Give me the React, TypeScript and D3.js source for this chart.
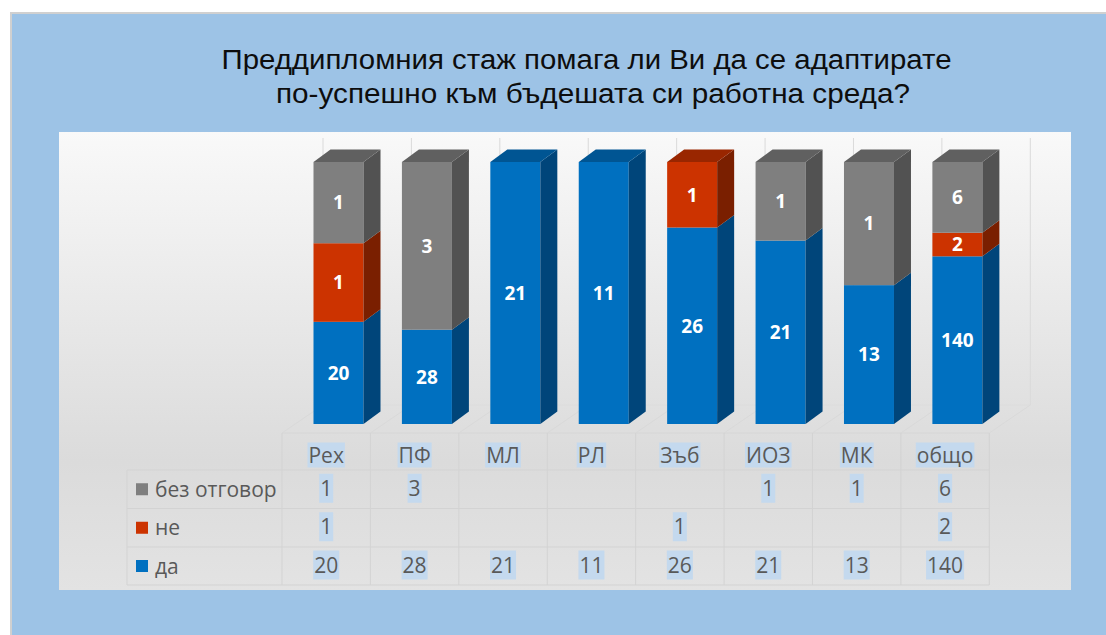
import React, { useEffect, useRef } from "react";
import * as d3 from "d3";

const categories = ["Рех", "ПФ", "МЛ", "РЛ", "Зъб", "ИОЗ", "МК", "общо"];
const seriesNames = ["без отговор", "не", "да"];

// counts shown in labels and in the data table
const daValues = [20, 28, 21, 11, 26, 21, 13, 140];
const neValues = [1, null, null, null, 1, null, null, 2];
const bezValues = [1, 3, null, null, null, 1, 1, 6];

// segment heights as drawn in the chart (percent of column)
const daShare = [39, 36, 100, 100, 75, 70, 53, 64];
const neShare = [30, 0, 0, 0, 25, 0, 0, 9];
const bezShare = [31, 64, 0, 0, 0, 30, 47, 27];

const titleLines = [
  "Преддипломния  стаж помага ли Ви да се адаптирате",
  "по-успешно към бъдешата си работна среда?",
];

const palette: Record<string, { front: string; side: string; top: string }> = {
  da: { front: "#0070c0", side: "#00457a", top: "#005593" },
  ne: { front: "#cc3300", side: "#7a1f00", top: "#992600" },
  bez: { front: "#7f7f7f", side: "#525252", top: "#606060" },
};

export default function App() {
  const ref = useRef<SVGSVGElement>(null);

  useEffect(() => {
    const svg = d3.select(ref.current);
    svg.selectAll("*").remove();

    const W = 1106, H = 635;
    const font = "'Open Sans', sans-serif";

    const defs = svg.append("defs");
    const grad = defs.append("linearGradient")
      .attr("id", "plotBg").attr("x1", 0).attr("y1", 0).attr("x2", 0).attr("y2", 1);
    grad.append("stop").attr("offset", 0).attr("stop-color", "#f9f9f9");
    grad.append("stop").attr("offset", 0.72).attr("stop-color", "#dbdbdb");
    grad.append("stop").attr("offset", 1).attr("stop-color", "#e3e3e3");

    svg.append("rect").attr("width", W).attr("height", H).attr("fill", "#fff");
    // chart area
    svg.append("rect")
      .attr("x", 11).attr("y", 13).attr("width", W).attr("height", H)
      .attr("fill", "#9dc3e6").attr("stroke", "#d0d0d0").attr("stroke-width", 2);

    // title
    const tl = svg.append("g").attr("font-family", "'Liberation Sans', Arial, sans-serif")
      .attr("font-size", 27).attr("fill", "#0d0d0d");
    tl.append("text").attr("x", 221.5).attr("y", 69).attr("textLength", 730)
      .attr("lengthAdjust", "spacingAndGlyphs").text(titleLines[0]);
    tl.append("text").attr("x", 276).attr("y", 103).attr("textLength", 634)
      .attr("lengthAdjust", "spacingAndGlyphs").text(titleLines[1]);

    // plot area
    svg.append("rect")
      .attr("x", 59).attr("y", 132).attr("width", 1012).attr("height", 458)
      .attr("fill", "url(#plotBg)");

    const x = d3.scaleBand<string>().domain(categories).range([282, 989.3]).paddingInner(0);
    const y = d3.scaleLinear().domain([0, 100]).range([424, 162]);
    const bw = x.bandwidth();
    const depthX = 17, depthY = -12.5;
    const floorX = 41, floorFront = 433, floorBack = 405;
    const bounds = categories.map((c) => x(c) as number).concat([x.range()[1]]);

    // back wall and floor
    const grid = svg.append("g").attr("fill", "none");
    bounds.forEach((b) => {
      grid.append("line")
        .attr("x1", b + floorX).attr("x2", b + floorX)
        .attr("y1", 138).attr("y2", floorBack)
        .attr("stroke", "#dadada");
      grid.append("line")
        .attr("x1", b).attr("y1", floorFront).attr("x2", b + floorX).attr("y2", floorBack)
        .attr("stroke", "#d9d9d9");
    });
    grid.append("line")
      .attr("x1", bounds[0] + floorX).attr("x2", bounds[8] + floorX)
      .attr("y1", floorBack).attr("y2", floorBack).attr("stroke", "#dcdcdc");
    grid.append("line")
      .attr("x1", bounds[0]).attr("x2", bounds[8])
      .attr("y1", floorFront).attr("y2", floorFront).attr("stroke", "#d6d6d6");

    // stacked 3d columns
    const rows = categories.map((c, i) => ({
      cat: c, da: daShare[i], ne: neShare[i], bez: bezShare[i],
    }));
    const labels: Record<string, (number | null)[]> = { da: daValues, ne: neValues, bez: bezValues };
    const stacked = d3.stack<any>().keys(["da", "ne", "bez"])(rows);

    const bars = svg.append("g");
    categories.forEach((c, i) => {
      const x0 = (x(c) as number) + 31.5;
      const x1 = x0 + 50;
      const g = bars.append("g");
      let topKey = "da";
      stacked.forEach((s) => {
        const [lo, hi] = s[i];
        if (hi - lo <= 0) return;
        topKey = s.key;
        const col = palette[s.key];
        const yt = y(hi), yb = y(lo);
        g.append("rect").attr("x", x0).attr("y", yt).attr("width", x1 - x0).attr("height", yb - yt)
          .attr("fill", col.front);
        g.append("polygon")
          .attr("points", [[x1, yt], [x1 + depthX, yt + depthY], [x1 + depthX, yb + depthY], [x1, yb]].join(" "))
          .attr("fill", col.side);
        const v = labels[s.key][i];
        if (v != null) {
          g.append("text")
            .attr("x", (x0 + x1) / 2).attr("y", (yt + yb) / 2).attr("dy", "0.36em")
            .attr("text-anchor", "middle").attr("font-family", font)
            .attr("font-weight", 700).attr("font-size", 19).attr("fill", "#fff")
            .text(v);
        }
      });
      const yt = y(100);
      g.append("polygon")
        .attr("points", [[x0, yt], [x0 + depthX, yt + depthY], [x1 + depthX, yt + depthY], [x1, yt]].join(" "))
        .attr("fill", palette[topKey].top);
    });

    // data table
    const tableLeft = 127;
    const rowTops = [470, 508.5, 547, 585];
    const lineCol = "#d3d3d3";
    const table = svg.append("g");
    rowTops.forEach((ry) => {
      table.append("line").attr("x1", tableLeft).attr("x2", bounds[8])
        .attr("y1", ry).attr("y2", ry).attr("stroke", lineCol);
    });
    table.append("line").attr("x1", tableLeft).attr("x2", tableLeft)
      .attr("y1", rowTops[0]).attr("y2", rowTops[3]).attr("stroke", lineCol);
    bounds.forEach((b) => {
      table.append("line").attr("x1", b).attr("x2", b)
        .attr("y1", floorFront).attr("y2", rowTops[3]).attr("stroke", lineCol);
    });

    const highlighted = (gx: number, gy: number, txt: string, boxH: number) => {
      const g = table.append("g");
      const rect = g.append("rect").attr("fill", "#c4d9ee");
      const t = g.append("text")
        .attr("x", gx).attr("y", gy).attr("dy", "0.36em").attr("text-anchor", "middle")
        .attr("font-family", font).attr("font-size", 21).attr("fill", "#595959")
        .text(txt);
      const bb = (t.node() as SVGTextElement).getBBox();
      rect.attr("x", bb.x - 1).attr("width", bb.width + 2)
        .attr("y", gy - boxH / 2).attr("height", boxH);
    };

    categories.forEach((c) => {
      highlighted((x(c) as number) + bw / 2, 455, c, 25);
    });

    const tableSeries = [
      { key: "bez", name: seriesNames[0], values: bezValues },
      { key: "ne", name: seriesNames[1], values: neValues },
      { key: "da", name: seriesNames[2], values: daValues },
    ];
    tableSeries.forEach((s, r) => {
      const cy = (rowTops[r] + rowTops[r + 1]) / 2;
      table.append("rect").attr("x", 136).attr("y", cy - 6).attr("width", 12).attr("height", 12)
        .attr("fill", palette[s.key].front);
      table.append("text").attr("x", 155).attr("y", cy).attr("dy", "0.36em")
        .attr("font-family", font).attr("font-size", 21).attr("fill", "#595959")
        .text(s.name);
      s.values.forEach((v, i) => {
        if (v == null) return;
        highlighted((x(categories[i]) as number) + bw / 2, cy - 1, String(v), 29);
      });
    });
  }, []);

  return (
    <svg ref={ref} width={1106} height={635}
      style={{ position: "absolute", left: 0, top: 0, display: "block" }} />
  );
}
